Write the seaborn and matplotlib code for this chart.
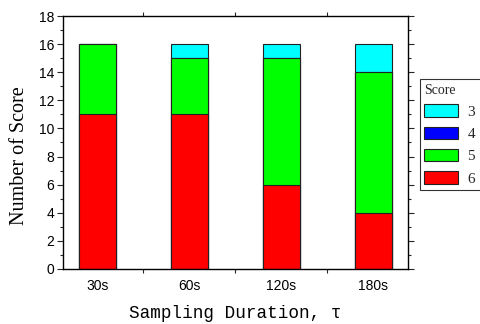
#!/usr/bin/env python3
# stacked score counts per sampling duration

import pandas as pd
import seaborn as sns
import matplotlib.pyplot as plt
from matplotlib.patches import Patch
from matplotlib.ticker import MultipleLocator, FixedLocator

DURATIONS = ["30s", "60s", "120s", "180s"]
SCORE_ORDER = ["3", "4", "5", "6"]          # legend order (top of stack first)
SCORE_3 = [0, 1, 1, 2]
SCORE_4 = [0, 0, 0, 0]
SCORE_5 = [5, 4, 9, 10]
SCORE_6 = [11, 11, 6, 4]
PALETTE = {"3": "#00FFFF", "4": "#0000FF", "5": "#00FF00", "6": "#FF0000"}


def build_frame():
    df = pd.DataFrame({
        "duration": DURATIONS,
        "6": SCORE_6,
        "5": SCORE_5,
        "4": SCORE_4,
        "3": SCORE_3,
    })
    # cumulative heights from bottom (6) to top (3)
    df["cum6"] = df["6"]
    df["cum5"] = df["cum6"] + df["5"]
    df["cum4"] = df["cum5"] + df["4"]
    df["cum3"] = df["cum4"] + df["3"]
    return df


def main():
    df = build_frame()
    sns.set_theme(style="ticks")

    fig = plt.figure(figsize=(4.81, 3.24), dpi=100)
    ax = fig.add_axes([0.1303, 0.1698, 0.7173, 0.7808])

    # draw tallest cumulative first so lower segments sit on top
    for s in SCORE_ORDER:
        sns.barplot(data=df, x="duration", y=f"cum{s}", order=DURATIONS,
                    color=PALETTE[s], saturation=1, width=0.4,
                    edgecolor="#222222", linewidth=0.8, ax=ax)

    ax.set_xlim(-0.375, 3.375)
    ax.set_ylim(0, 18)
    ax.yaxis.set_major_locator(MultipleLocator(2))
    ax.yaxis.set_minor_locator(MultipleLocator(1))
    ax.xaxis.set_minor_locator(FixedLocator([0.5, 1.5, 2.5]))

    for side in ("top", "right", "bottom", "left"):
        ax.spines[side].set_visible(True)
        ax.spines[side].set_color("black")
        ax.spines[side].set_linewidth(1.0)

    ax.tick_params(axis="x", which="major", length=0, pad=7,
                   labelsize=10, top=False)
    ax.tick_params(axis="x", which="minor", length=3, width=0.8,
                   direction="out", top=True, bottom=True)
    ax.tick_params(axis="y", which="major", length=4, width=0.8,
                   direction="out", labelsize=10, right=True, left=True, pad=2)
    ax.tick_params(axis="y", which="minor", length=2.5, width=0.8,
                   direction="out", right=True, left=True)
    for lab in ax.get_xticklabels() + ax.get_yticklabels():
        lab.set_fontfamily("Liberation Sans")
        lab.set_color("black")

    ax.set_ylabel("Number of Score", fontsize=14.5, family="Liberation Serif",
                  color="black")
    ax.yaxis.set_label_coords(-0.098, 0.45)
    ax.set_xlabel("Sampling Duration, τ", fontsize=12.7, family="Liberation Mono",
                  color="black", labelpad=9)

    # legend box runs past the right edge of the figure, as in the source
    handles = [Patch(facecolor=PALETTE[s], edgecolor="#222222", linewidth=0.8)
               for s in SCORE_ORDER]
    leg = fig.legend(handles, SCORE_ORDER, title="Score",
                     loc="upper left", bbox_to_anchor=(0.873, 0.0, 0.2, 0.756),
                     mode="expand",
                     frameon=True, fancybox=False, alignment="left",
                     prop={"family": "Liberation Serif", "size": 11},
                     title_fontproperties={"family": "Liberation Serif", "size": 10},
                     handlelength=2.2, handleheight=0.9, handletextpad=0.6,
                     labelspacing=0.5, borderpad=0.3, borderaxespad=0)
    leg.get_frame().set_edgecolor("black")
    leg.get_frame().set_linewidth(0.8)

    fig.savefig("out.png", dpi=100)


if __name__ == "__main__":
    main()
